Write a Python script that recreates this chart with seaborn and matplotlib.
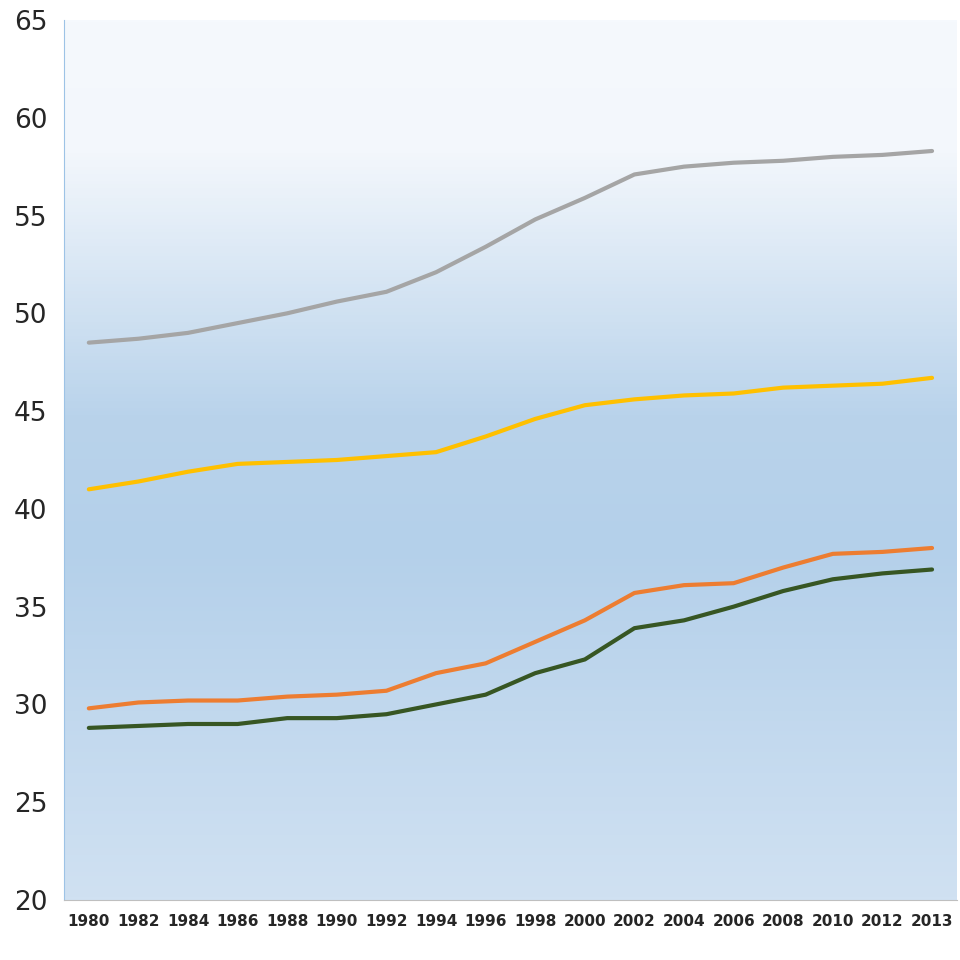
import numpy as np
import pandas as pd
import seaborn as sns
import matplotlib.pyplot as plt
from matplotlib.colors import LinearSegmentedColormap

years = ['1980', '1982', '1984', '1986', '1988', '1990', '1992', '1994', '1996',
         '1998', '2000', '2002', '2004', '2006', '2008', '2010', '2012', '2013']
gray = [48.5, 48.7, 49.0, 49.5, 50.0, 50.6, 51.1, 52.1, 53.4, 54.8, 55.9, 57.1,
        57.5, 57.7, 57.8, 58.0, 58.1, 58.3]
yellow = [41.0, 41.4, 41.9, 42.3, 42.4, 42.5, 42.7, 42.9, 43.7, 44.6, 45.3, 45.6,
          45.8, 45.9, 46.2, 46.3, 46.4, 46.7]
orange = [29.8, 30.1, 30.2, 30.2, 30.4, 30.5, 30.7, 31.6, 32.1, 33.2, 34.3, 35.7,
          36.1, 36.2, 37.0, 37.7, 37.8, 38.0]
green = [28.8, 28.9, 29.0, 29.0, 29.3, 29.3, 29.5, 30.0, 30.5, 31.6, 32.3, 33.9,
         34.3, 35.0, 35.8, 36.4, 36.7, 36.9]

series = {'gray': gray, 'yellow': yellow, 'orange': orange, 'green': green}
colors = {'gray': '#a5a5a5', 'yellow': '#ffc000', 'orange': '#ed7d31', 'green': '#375623'}

df = pd.DataFrame({'year': years, **series}).melt(id_vars='year', var_name='s', value_name='v')

sns.set_style('white')
fig = plt.figure(figsize=(9.6, 9.6), dpi=100)
ax = fig.add_axes([0.0667, 0.0625, 0.93, 0.9167])

# background gradient
cmap = LinearSegmentedColormap.from_list('bg', [(0, '#f5f9fd'), (0.15, '#f3f7fc'),
                                                (0.45, '#b9d3eb'), (0.6, '#b4d0ea'),
                                                (1, '#d0e1f2')])
grad = np.linspace(0, 1, 256).reshape(-1, 1)
ax.imshow(grad, cmap=cmap, aspect='auto', extent=[-0.5, 17.5, 20, 65], zorder=0)

sns.lineplot(data=df, x='year', y='v', hue='s', palette=colors, lw=3, ax=ax,
             legend=False, sort=False, zorder=3)

ax.set_xlim(-0.5, 17.5)
ax.set_ylim(20, 65)
ax.set_yticks(range(20, 66, 5))
ax.set_xlabel('')
ax.set_ylabel('')
ax.tick_params(axis='y', labelsize=19, length=0, pad=12)
ax.tick_params(axis='x', labelsize=11, length=0, pad=10)
for lab in ax.get_xticklabels():
    lab.set_fontweight('bold')
ax.set_xticks(np.arange(0.5, 17.5, 1), minor=True)
ax.tick_params(axis='x', which='minor', length=5, color='#bfbfbf')
for s in ['top', 'right']:
    ax.spines[s].set_visible(False)
ax.spines['left'].set_color('#9dc3e6')
ax.spines['bottom'].set_color('#bfbfbf')

fig.savefig('out.png', dpi=100)
